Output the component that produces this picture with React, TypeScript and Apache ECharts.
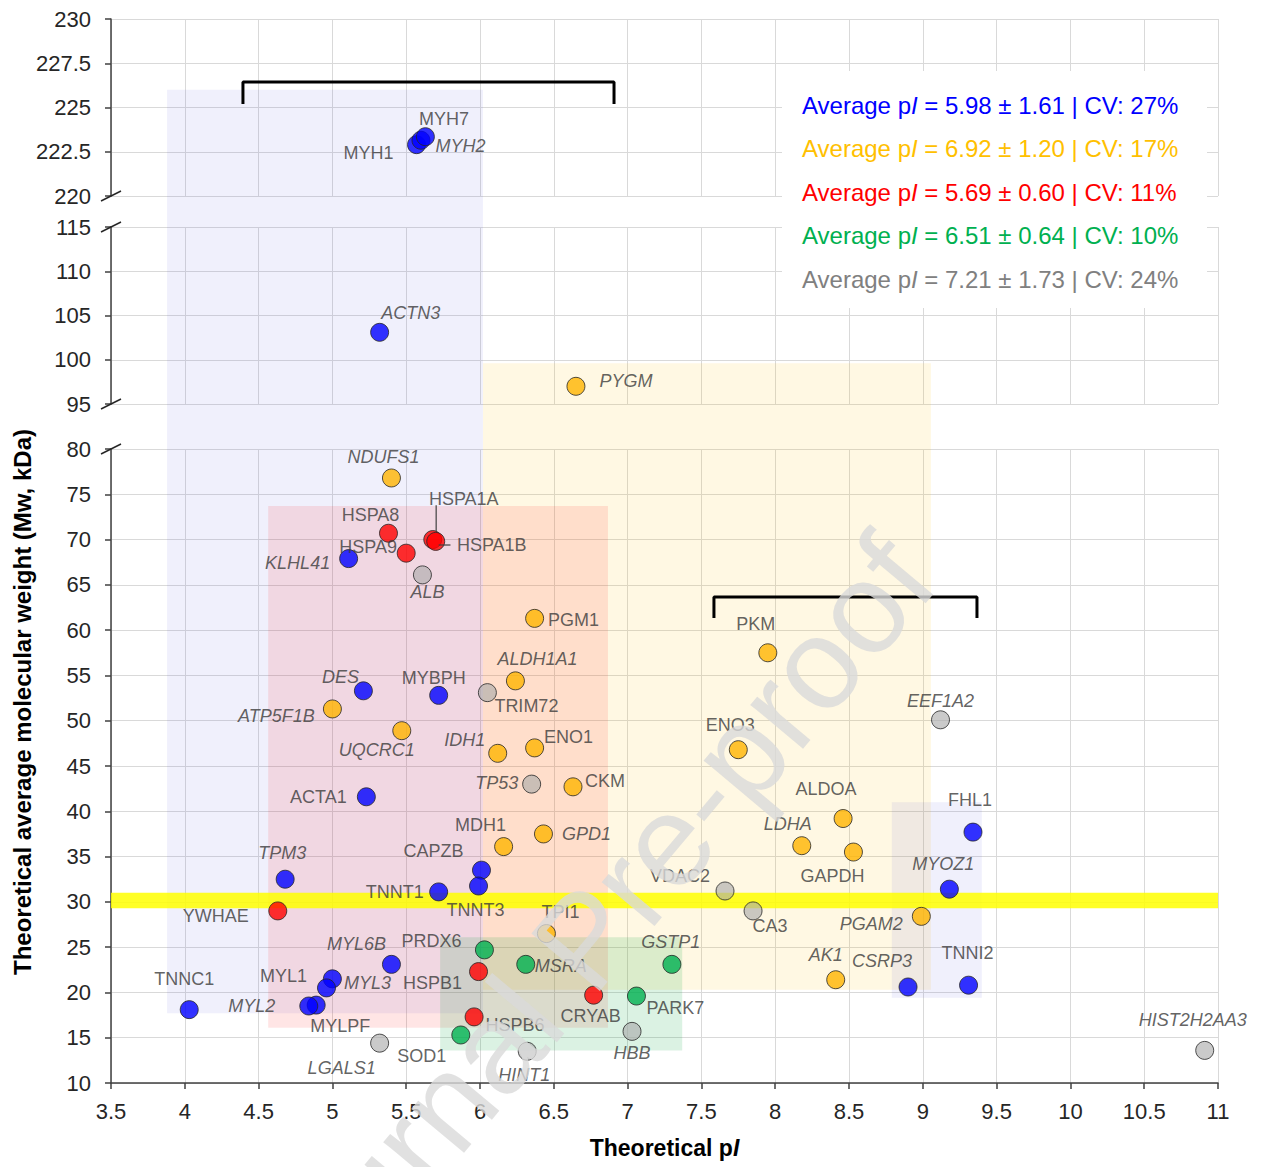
import React, { useEffect, useRef } from 'react';
import * as echarts from 'echarts';

// ---------- data ----------
const blueNames = ['MYH1', 'MYH7', 'MYH2', 'ACTN3', 'KLHL41', 'DES', 'MYBPH', 'ACTA1', 'TPM3', 'TNNT1', 'CAPZB', 'TNNT3', 'MYL6B', 'MYL1', 'MYL3', 'MYLPF', 'MYL2', 'TNNC1', 'FHL1', 'MYOZ1', 'CSRP3', 'TNNI2'];
const bluePI = [5.57, 5.60, 5.63, 5.32, 5.11, 5.21, 5.72, 5.23, 4.68, 5.72, 6.01, 5.99, 5.40, 5.00, 4.96, 4.89, 4.84, 4.03, 9.34, 9.18, 8.90, 9.31];
const blueMw = [222.9, 223.15, 223.35, 103.1, 67.9, 53.3, 52.8, 41.6, 32.5, 31.1, 33.5, 31.75, 23.1, 21.5, 20.5, 18.6, 18.5, 18.1, 37.7, 31.4, 20.6, 20.8];

const orangeNames = ['PYGM', 'NDUFS1', 'PGM1', 'ALDH1A1', 'ATP5F1B', 'UQCRC1', 'IDH1', 'ENO1', 'CKM', 'GPD1', 'MDH1', 'TPI1', 'PKM', 'ENO3', 'ALDOA', 'LDHA', 'GAPDH', 'PGAM2', 'AK1'];
const orangePI = [6.65, 5.40, 6.37, 6.24, 5.00, 5.47, 6.12, 6.37, 6.63, 6.43, 6.16, 6.45, 7.95, 7.75, 8.46, 8.18, 8.53, 8.99, 8.41];
const orangeMw = [97.0, 76.8, 61.3, 54.4, 51.3, 48.9, 46.4, 47.0, 42.7, 37.5, 36.1, 26.5, 57.5, 46.8, 39.2, 36.2, 35.5, 28.4, 21.4];

const redNames = ['HSPA8', 'HSPA9', 'HSPA1A', 'HSPA1B', 'YWHAE', 'HSPB1', 'HSPB6', 'CRYAB'];
const redPI = [5.38, 5.50, 5.68, 5.70, 4.63, 5.99, 5.96, 6.77];
const redMw = [70.7, 68.5, 70.0, 69.8, 29.0, 22.3, 17.3, 19.7];

const greenNames = ['PRDX6', 'MSRA', 'GSTP1', 'PARK7', 'SOD1'];
const greenPI = [6.03, 6.31, 7.30, 7.06, 5.87];
const greenMw = [24.7, 23.1, 23.1, 19.6, 15.3];

const greyNames = ['ALB', 'TRIM72', 'TP53', 'VDAC2', 'CA3', 'EEF1A2', 'HBB', 'HINT1', 'LGALS1', 'HIST2H2AA3'];
const greyPI = [5.61, 6.05, 6.35, 7.66, 7.85, 9.12, 7.03, 6.32, 5.32, 10.91];
const greyMw = [66.1, 53.1, 43.0, 31.2, 29.0, 50.1, 15.7, 13.5, 14.4, 13.6];

const legendMeans = ['5.98', '6.92', '5.69', '6.51', '7.21'];
const legendSDs = ['1.61', '1.20', '0.60', '0.64', '1.73'];
const legendCVs = ['27%', '17%', '11%', '10%', '24%'];

// region boxes: [xMin, xMax, yTop, yBottom]
const blueRegion = [3.88, 6.02, 226.0, 17.7];
const orangeRegion = [6.02, 9.055, 99.6, 20.3];
const redRegion = [4.565, 6.867, 73.7, 16.1];
const greenRegion = [5.73, 7.37, 26.1, 13.6];
const blueRegion2 = [8.79, 9.40, 41.0, 19.4];
const yellowBand = [3.5, 11, 31.0, 29.3];

const bracketTop = [[4.394, 225.2], [4.394, 226.44], [6.908, 226.44], [6.908, 225.2]];
const bracketBottom = [[7.585, 61.34], [7.585, 63.66], [9.367, 63.66], [9.367, 61.34]];
const leaderA = [[5.703, 70.9], [5.703, 73.8]];
const leaderB = [[5.72, 69.4], [5.80, 69.4]];

// ---------- styles ----------
const italicNames = new Set(['MYH2', 'ACTN3', 'PYGM', 'NDUFS1', 'KLHL41', 'ALB', 'DES', 'ATP5F1B', 'UQCRC1', 'IDH1', 'ALDH1A1', 'TP53', 'GPD1', 'TPM3', 'MYL6B', 'MYL3', 'MYL2', 'LGALS1', 'HINT1', 'MSRA', 'GSTP1', 'HBB', 'LDHA', 'EEF1A2', 'MYOZ1', 'PGAM2', 'AK1', 'CSRP3', 'HIST2H2AA3']);

const labelOffsets: Record<string, [number, number]> = {
  MYH1: [-48, 8], MYH7: [23, -21], MYH2: [35, 9], ACTN3: [31, -19], PYGM: [50, -5],
  NDUFS1: [-8, -21], HSPA8: [-18, -18], HSPA9: [-38, -6], HSPA1A: [31, -41], HSPA1B: [56, 4],
  KLHL41: [-51, 4], ALB: [5, 17], PGM1: [39, 2], ALDH1A1: [22, -22], DES: [-23, -14],
  MYBPH: [-5, -17], TRIM72: [39, 13], ATP5F1B: [-56, 7], UQCRC1: [-25, 19], IDH1: [-33, -13],
  ENO1: [34, -11], TP53: [-35, -1], CKM: [32, -6], ACTA1: [-48, 0], MDH1: [-23, -22],
  GPD1: [43, 0], CAPZB: [-48, -19], TPM3: [-3, -26], TNNT1: [-44, 0], TNNT3: [-3, 24],
  YWHAE: [-62, 5], TPI1: [14, -22], VDAC2: [-45, -15], CA3: [17, 15], PRDX6: [-53, -9],
  MYL6B: [-35, -20], MSRA: [35, 2], GSTP1: [-1, -22], HSPB1: [-46, 11], MYL1: [-49, -3],
  MYL3: [41, -5], MYL2: [-57, 0], MYLPF: [24, 21], TNNC1: [-5, -31], CRYAB: [-3, 21],
  PARK7: [39, 12], HSPB6: [41, 8], SOD1: [-39, 21], HBB: [0, 22], LGALS1: [-38, 25],
  HINT1: [-3, 24], PKM: [-12, -29], ENO3: [-8, -25], EEF1A2: [0, -19], ALDOA: [-17, -30],
  LDHA: [-14, -22], GAPDH: [-21, 24], FHL1: [-3, -32], MYOZ1: [-6, -25], PGAM2: [-50, 8],
  AK1: [-10, -25], CSRP3: [-26, -26], TNNI2: [-1, -32], HIST2H2AA3: [-12, -30],
};

const groups = [
  { names: blueNames, pi: bluePI, mw: blueMw, color: '#0000ff' },
  { names: orangeNames, pi: orangePI, mw: orangeMw, color: '#ffb400' },
  { names: redNames, pi: redPI, mw: redMw, color: '#ff0000' },
  { names: greenNames, pi: greenPI, mw: greenMw, color: '#00b050' },
  { names: greyNames, pi: greyPI, mw: greyMw, color: 'rgba(170,170,170,0.78)' },
];
const legendColors = ['#0000ff', '#ffc000', '#ff0000', '#00b050', '#808080'];

const FONT = "'Liberation Sans', Arial, sans-serif";
const GRID_LEFT = 111;
const GRID_W = 1107;
const grids = [
  { top: 19, height: 177 },
  { top: 227, height: 177 },
  { top: 449, height: 634 },
];
const yRanges = [
  { min: 220, max: 230, interval: 2.5 },
  { min: 95, max: 115, interval: 5 },
  { min: 10, max: 80, interval: 5 },
];

const panelOf = (mw: number) => (mw >= 200 ? 0 : mw >= 90 ? 1 : 2);

function buildOption() {
  const series: any[] = [];
  groups.forEach((g) => {
    for (let gi = 0; gi < 3; gi++) {
      const data = g.names
        .map((n, i) => ({ n, i }))
        .filter(({ i }) => panelOf(g.mw[i]) === gi)
        .map(({ n, i }) => ({
          name: n,
          value: [g.pi[i], g.mw[i]],
          label: {
            offset: labelOffsets[n] || [0, -20],
            fontStyle: italicNames.has(n) ? 'italic' : 'normal',
          },
        }));
      if (!data.length) continue;
      series.push({
        type: 'scatter',
        xAxisIndex: gi,
        yAxisIndex: gi,
        symbolSize: 18,
        z: 3,
        itemStyle: { color: g.color, borderColor: '#262626', borderWidth: 1 },
        label: {
          show: true,
          position: 'inside',
          formatter: '{b}',
          color: '#3a3a3a',
          fontSize: 18,
          fontFamily: FONT,
        },
        emphasis: { disabled: true },
        data,
      });
    }
  });
  const lineSeries = (gi: number, data: number[][], width: number) => ({
    type: 'line',
    xAxisIndex: gi,
    yAxisIndex: gi,
    data,
    symbol: 'none',
    silent: true,
    z: 5,
    lineStyle: { color: width > 2 ? '#000' : '#404040', width },
  });
  series.push(lineSeries(0, bracketTop, 3));
  series.push(lineSeries(2, bracketBottom, 3));
  series.push(lineSeries(2, leaderA, 1.2));
  series.push(lineSeries(2, leaderB, 1.2));

  const xAxis = grids.map((_, gi) => ({
    type: 'value',
    gridIndex: gi,
    min: 3.5,
    max: 11,
    interval: 0.5,
    axisLine: { show: gi === 2, onZero: false, lineStyle: { color: '#404040', width: 1.5 } },
    axisTick: { show: gi === 2, length: 6, lineStyle: { color: '#404040', width: 1.5 } },
    axisLabel: { show: gi === 2, fontSize: 22, color: '#262626', fontFamily: FONT, margin: 17 },
    splitLine: { show: true, lineStyle: { color: '#d9d9d9', width: 1 } },
    name: gi === 2 ? '{a|Theoretical p}{b|I}' : '',
    nameLocation: 'middle',
    nameGap: 53,
    nameTextStyle: {
      rich: {
        a: { fontSize: 23, fontWeight: 'bold', color: '#000', fontFamily: FONT },
        b: { fontSize: 23, fontWeight: 'bold', fontStyle: 'italic', color: '#000', fontFamily: FONT },
      },
    },
  }));
  const yAxis = grids.map((_, gi) => ({
    type: 'value',
    gridIndex: gi,
    min: yRanges[gi].min,
    max: yRanges[gi].max,
    interval: yRanges[gi].interval,
    axisLine: { show: true, onZero: false, lineStyle: { color: '#404040', width: 1.5 } },
    axisTick: { show: true, length: 6, lineStyle: { color: '#404040', width: 1.5 } },
    axisLabel: { fontSize: 22, color: '#262626', fontFamily: FONT, margin: 20 },
    splitLine: { show: true, lineStyle: { color: '#d9d9d9', width: 1 } },
  }));
  return {
    animation: false,
    backgroundColor: '#ffffff',
    grid: grids.map((g) => ({
      left: GRID_LEFT, width: GRID_W, top: g.top, height: g.height,
      containLabel: false, outerBoundsMode: 'none',
    })),
    xAxis,
    yAxis,
    series,
  };
}

export default function App() {
  const ref = useRef<HTMLDivElement>(null);
  useEffect(() => {
    if (!ref.current) return;
    const chart = echarts.init(ref.current, null, { renderer: 'svg' });
    chart.setOption(buildOption() as any);
    const P = (gi: number, x: number, y: number) => chart.convertToPixel({ gridIndex: gi } as any, [x, y]) as number[];

    const rectFrom = (r: number[], giTop: number, giBottom: number, fill: string) => {
      const a = P(giTop, r[0], r[2]);
      const b = P(giBottom, r[1], r[3]);
      return {
        type: 'rect', silent: true, z: 1,
        shape: { x: a[0], y: a[1], width: b[0] - a[0], height: b[1] - a[1] },
        style: { fill },
      };
    };
    const els: any[] = [
      rectFrom(blueRegion, 0, 2, 'rgba(60,60,220,0.08)'),
      rectFrom(orangeRegion, 1, 2, 'rgba(255,192,0,0.11)'),
      rectFrom(redRegion, 2, 2, 'rgba(255,0,0,0.10)'),
      rectFrom(greenRegion, 2, 2, 'rgba(0,160,60,0.14)'),
      rectFrom(blueRegion2, 2, 2, 'rgba(60,60,220,0.08)'),
      rectFrom(yellowBand, 2, 2, 'rgba(255,255,0,0.85)'),
    ];
    // legend box
    els.push({ type: 'rect', silent: true, z: 2, shape: { x: 782, y: 71, width: 425, height: 237 }, style: { fill: '#ffffff' } });
    legendMeans.forEach((m, i) => {
      const c = legendColors[i];
      els.push({
        type: 'text', silent: true, z: 3, x: 802, y: 105 + i * 43.5,
        style: {
          text: `{n|Average p}{i|I}{n| = ${m} ± ${legendSDs[i]} | CV: ${legendCVs[i]}}`,
          verticalAlign: 'middle', align: 'left',
          rich: {
            n: { fill: c, fontSize: 24, fontFamily: FONT },
            i: { fill: c, fontSize: 24, fontFamily: FONT, fontStyle: 'italic' },
          },
        },
      });
    });
    // y title
    els.push({
      type: 'text', silent: true, z: 3, x: 22, y: 702, rotation: Math.PI / 2,
      style: {
        text: 'Theoretical average molecular weight (Mw, kDa)', fill: '#000', fontSize: 24,
        fontWeight: 'bold', fontFamily: FONT, align: 'center', verticalAlign: 'middle',
      },
    });
    // axis break marks
    const ax = P(0, 3.5, 220)[0];
    const breaks = [P(0, 3.5, 220)[1], P(1, 3.5, 115)[1], P(1, 3.5, 95)[1], P(2, 3.5, 80)[1]];
    breaks.forEach((y) => {
      els.push({
        type: 'line', silent: true, z: 4,
        shape: { x1: ax - 10, y1: y + 5, x2: ax + 10, y2: y - 5 },
        style: { stroke: '#262626', lineWidth: 1.5 },
      });
    });
    // watermark
    els.push({
      type: 'text', silent: true, z: 100, x: 584, y: 940, rotation: (50 * Math.PI) / 180,
      style: {
        text: 'Journal Pre-proof', fill: 'rgba(218,218,218,0.8)', fontSize: 130,
        fontFamily: FONT, align: 'center', verticalAlign: 'middle',
      },
    });
    chart.setOption({ graphic: els } as any);
    return () => chart.dispose();
  }, []);
  return <div ref={ref} style={{ position: 'absolute', left: 0, top: 0, width: 1263, height: 1167 }} />;
}
